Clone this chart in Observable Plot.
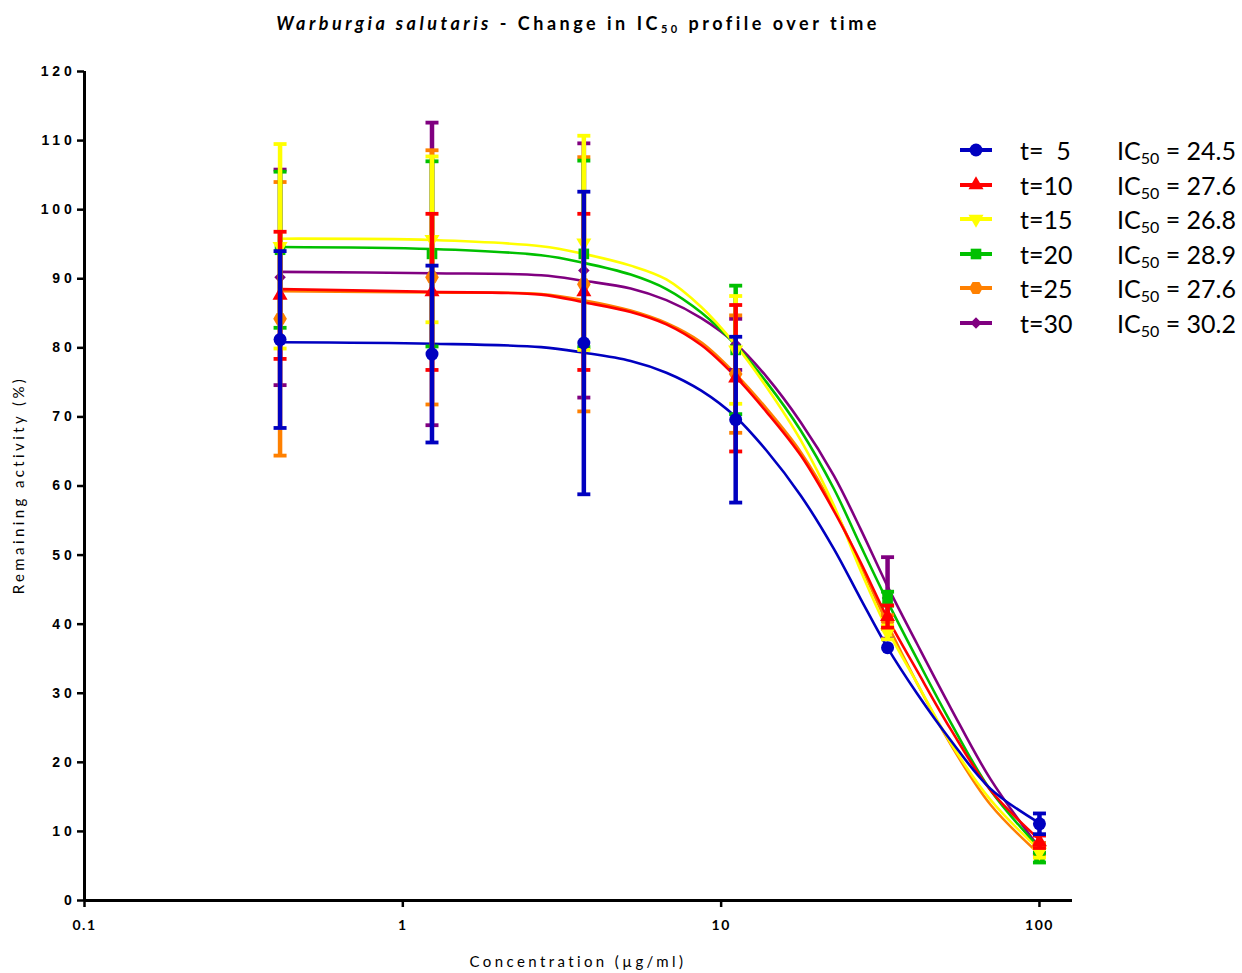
<!DOCTYPE html>
<html>
<head>
<meta charset="utf-8">
<script src="https://cdn.jsdelivr.net/npm/d3@7"></script>
<script src="https://cdn.jsdelivr.net/npm/@observablehq/plot@0.6"></script>
<style>
  body { margin: 0; background: #fff; }
  #wrap { position: relative; width: 1242px; height: 973px; font-family: Lato, "Open Sans", sans-serif; color: #000; }
  #chart { position: absolute; left: 0; top: 0; }
  #title { position: absolute; top: 12px; left: 84px; width: 988px; text-align: center; font-weight: bold; font-size: 18px; letter-spacing: 3.5px; line-height: 22px; white-space: nowrap; }
  #title sub { font-size: 11px; vertical-align: -3px; line-height: 0; }
  #ylabel { position: absolute; left: -132px; top: 474px; width: 300px; text-align: center; font-size: 15px; letter-spacing: 3.4px; transform: rotate(-90deg); line-height: 22px; }
  #xlabel { position: absolute; left: 378px; top: 950px; width: 400px; text-align: center; font-size: 15px; letter-spacing: 3.4px; line-height: 22px; }
  .lrow { position: absolute; left: 0; height: 34px; line-height: 34px; font-size: 25px; white-space: pre; }
  .lrow span { position: absolute; top: 0; }
  .lrow sub { font-size: 16px; vertical-align: -4px; line-height: 0; }
  g[aria-label="y-axis tick label"] text { letter-spacing: 3.8px; }
  g[aria-label="x-axis tick label"] text { letter-spacing: 1.5px; }
</style>
</head>
<body>
<div id="wrap">
  <div id="chart"></div>
  <div id="title"><i>Warburgia salutaris</i> - Change in IC<sub>50</sub> profile over time</div>
  <div id="ylabel">Remaining activity (%)</div>
  <div id="xlabel">Concentration (µg/ml)</div>
  <div id="legend"></div>
</div>
<script>
// ---- data ----
const conc = [0.4115, 1.235, 3.704, 11.11, 33.33, 100];
const timeLabels = ["t=  5", "t=10", "t=15", "t=20", "t=25", "t=30"];
const ic50Values = ["24.5", "27.6", "26.8", "28.9", "27.6", "30.2"];

const mean5  = [81.2, 79.1, 80.7, 69.6, 36.6, 11.1];
const sd5    = [12.8, 12.8, 21.9, 12.0, 0, 1.5];
const mean10 = [87.6, 88.1, 88.1, 75.6, 41.1, 8.5];
const sd10   = [9.2, 11.3, 11.3, 10.6, 1.6, 0.9];
const mean15 = [94.7, 95.7, 95.2, 79.7, 38.8, 7.0];
const sd15   = [14.8, 12.0, 15.5, 7.8, 1.0, 0.8];
const mean20 = [94.2, 93.6, 93.6, 79.7, 43.7, 6.2];
const sd20   = [11.3, 13.4, 13.5, 9.3, 1.0, 0.7];
const mean25 = [84.2, 90.2, 89.2, 76.2, 40.3, 7.5];
const sd25   = [19.8, 18.4, 18.4, 8.5, 1.0, 0.8];
const mean30 = [90.2, 90.7, 91.2, 80.5, 43.8, 7.5];
const sd30   = [15.6, 21.9, 18.4, 3.7, 5.9, 0.8];

// fitted curves
const fitConc = [0.4115, 1.235, 2.72, 3.70, 5.20, 6.73, 8.66, 11.11, 13.9, 17.8, 22.6, 27.4, 33.3, 41.2, 52.6, 70.1, 100];
const fit5  = [80.8, 80.6, 80.1, 79.3, 78.1, 76.4, 73.8, 70.0, 65.1, 58.6, 50.9, 43.7, 36.6, 30.0, 23.2, 16.2, 11.2];
const fit10 = [88.5, 88.1, 87.7, 86.6, 85.2, 83.4, 80.4, 75.8, 70.7, 64.4, 56.4, 49.0, 40.9, 33.3, 24.8, 16.0, 8.8];
const fit15 = [95.8, 95.6, 94.7, 93.6, 91.9, 89.9, 85.9, 80.4, 74.3, 66.6, 57.2, 47.8, 39.2, 31.5, 22.8, 14.6, 7.3];
const fit20 = [94.6, 94.3, 93.4, 92.3, 90.6, 88.5, 85.1, 80.4, 75.0, 68.0, 59.6, 51.4, 43.3, 35.0, 25.8, 16.0, 7.6];
const fit25 = [88.2, 88.0, 87.8, 86.9, 85.4, 83.6, 80.8, 76.2, 71.2, 64.9, 56.8, 48.6, 40.0, 31.5, 22.6, 13.9, 6.7];
const fit30 = [91.0, 90.8, 90.5, 89.7, 88.6, 86.9, 84.3, 80.6, 75.8, 69.2, 61.5, 53.8, 45.5, 37.2, 27.9, 17.6, 7.6];

const yTicks = [0, 10, 20, 30, 40, 50, 60, 70, 80, 90, 100, 110, 120];
const xTicks = [0.1, 1, 10, 100];

// ---- styles ----
const colors = ["#0000c0", "#ff0000", "#ffff00", "#00c000", "#ff8000", "#800080"];

const downTriangle = {
  draw(ctx, size) {
    const y = -Math.sqrt(size / (Math.sqrt(3) * 3));
    ctx.moveTo(0, -2 * y);
    ctx.lineTo(Math.sqrt(3) * y, y);
    ctx.lineTo(-Math.sqrt(3) * y, y);
    ctx.closePath();
  }
};
const hexagon = {
  draw(ctx, size) {
    const a = Math.sqrt(size / (3 * Math.sqrt(3) / 2));
    for (let i = 0; i < 6; i++) {
      const t = Math.PI / 3 * i;
      const px = a * Math.cos(t), py = a * Math.sin(t);
      if (i === 0) ctx.moveTo(px, py); else ctx.lineTo(px, py);
    }
    ctx.closePath();
  }
};
const capSymbol = { draw(ctx) { ctx.rect(-6.5, -1.9, 13, 3.8); } };

const symbols = [d3.symbolCircle, d3.symbolTriangle, downTriangle, d3.symbolSquare, hexagon, d3.symbolDiamond2];
const radii = [6.5, 5.6, 5.6, 6.0, 6.2, 5.2];

const means = [mean5, mean10, mean15, mean20, mean25, mean30];
const sds = [sd5, sd10, sd15, sd20, sd25, sd30];
const fits = [fit5, fit10, fit15, fit20, fit25, fit30];

const series = timeLabels.map((label, k) => ({
  label, ic50: ic50Values[k], color: colors[k], symbol: symbols[k], r: radii[k],
  pts: conc.map((c, i) => ({ x: c, m: means[k][i], sd: sds[k][i], lo: means[k][i] - sds[k][i], hi: means[k][i] + sds[k][i] })),
  fit: fitConc.map((c, i) => ({ x: c, y: fits[k][i] }))
}));

const marks = [];
marks.push(Plot.axisY({ ticks: yTicks, tickSize: 7, tickPadding: 2, strokeWidth: 2.5, fontSize: 14, fontWeight: "bold", fontFamily: "Liberation Sans", label: null }));
marks.push(Plot.axisX({ ticks: xTicks, tickFormat: d => String(d), tickSize: 7, tickPadding: 13, strokeWidth: 2.5, fontSize: 14, fontWeight: "bold", label: null }));

const order = series.slice().reverse();
for (const s of order) {
  marks.push(Plot.line(s.fit, { x: "x", y: "y", stroke: s.color, strokeWidth: 2.6, curve: "catmull-rom" }));
}
for (const s of order) {
  const bars = s.pts.filter(p => p.sd > 0);
  marks.push(Plot.ruleX(bars, { x: "x", y1: "lo", y2: "hi", stroke: s.color, strokeWidth: 4.5 }));
  const caps = bars.flatMap(p => [{ x: p.x, y: p.lo }, { x: p.x, y: p.hi }]);
  marks.push(Plot.dot(caps, { x: "x", y: "y", symbol: capSymbol, fill: s.color, stroke: "none", r: 3 }));
  marks.push(Plot.dot(s.pts, { x: "x", y: "m", symbol: s.symbol, fill: s.color, stroke: "none", r: s.r }));
}
marks.push(Plot.ruleX([0.1], { strokeWidth: 3 }));
marks.push(Plot.ruleY([0], { strokeWidth: 3 }));

const chart = Plot.plot({
  width: 1242,
  height: 973,
  marginLeft: 84,
  marginRight: 170,
  marginTop: 71,
  marginBottom: 73,
  style: { background: "white", color: "black", fontFamily: "Lato, sans-serif", overflow: "visible" },
  x: { type: "log", domain: [0.1, 127] },
  y: { domain: [0, 120] },
  marks
});
document.getElementById("chart").appendChild(chart);

// ---- legend ----
const legend = document.getElementById("legend");
const rowTop = 133;
const rowStep = 34.5;
series.forEach((s, k) => {
  const row = document.createElement("div");
  row.className = "lrow";
  row.style.top = (rowTop + k * rowStep) + "px";
  const sym = d3.symbol(s.symbol, Math.PI * s.r * s.r)();
  row.innerHTML =
    `<span style="left:958px;top:0"><svg width="36" height="34" style="display:block"><line x1="2" x2="34" y1="17" y2="17" stroke="${s.color}" stroke-width="4"/><path d="${sym}" transform="translate(18,17)" fill="${s.color}"/></svg></span>` +
    `<span style="left:1020px">${s.label}</span>` +
    `<span style="left:1117px">IC<sub>50</sub> = ${s.ic50}</span>`;
  legend.appendChild(row);
});
</script>
</body>
</html>
